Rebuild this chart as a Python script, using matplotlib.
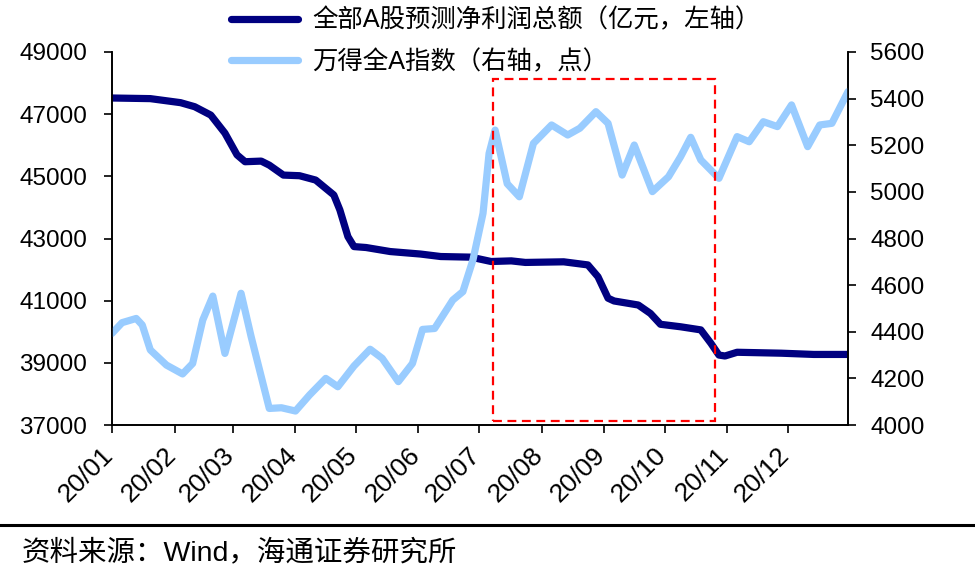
import pandas as pd
import matplotlib
matplotlib.use('Agg')
import matplotlib.pyplot as plt
import matplotlib.dates as mdates
import matplotlib.transforms as mtransforms
from matplotlib.patches import Rectangle
from matplotlib.lines import Line2D

plt.rcParams['font.family'] = ['Liberation Sans', 'Noto Sans CJK SC']

# day offsets from 2020-01-01
profit_days = [0, 19, 34, 41, 49, 56, 62, 66, 74, 78, 85, 93, 101, 110, 113, 117, 120, 126, 138, 153,
               163, 178, 188, 198, 205, 224, 236, 241, 246, 249, 261, 267, 272, 282, 292, 297, 301, 304,
               310, 332, 348, 365]
profit_vals = [47520, 47500, 47370, 47240, 46970, 46390, 45690, 45470, 45490, 45360, 45040, 45020,
               44880, 44400, 43920, 43060, 42740, 42710, 42580, 42500, 42420, 42400, 42260, 42280,
               42230, 42250, 42150, 41770, 41080, 40990, 40860, 40590, 40240, 40160, 40060, 39630,
               39250, 39220, 39340, 39310, 39270, 39270]

index_days = [0, 5, 12, 15, 19, 27, 35, 40, 45, 50, 56, 64, 69, 78, 84, 91, 98, 106, 112, 120,
              128, 134, 142, 149, 154, 160, 169, 174, 179, 184, 187, 190, 196, 202, 209, 218, 226, 232,
              240, 246, 253, 259, 268, 276, 282, 287, 292, 301, 310, 316, 323, 330, 337, 345, 351, 357, 365]
index_vals = [4393, 4439, 4457, 4429, 4322, 4257, 4219, 4264, 4450, 4553, 4307, 4565, 4379, 4071,
              4074, 4060, 4129, 4200, 4164, 4253, 4325, 4286, 4186, 4264, 4410, 4414, 4536, 4572,
              4708, 4908, 5165, 5265, 5035, 4979, 5208, 5287, 5244, 5273, 5344, 5294, 5072, 5201,
              5001, 5065, 5151, 5234, 5137, 5058, 5237, 5215, 5301, 5280, 5373, 5194, 5287, 5294, 5430]

profit_label = '全部A股预测净利润总额（亿元，左轴）'
index_label = '万得全A指数（右轴，点）'
source_text = '资料来源：Wind，海通证券研究所'

# highlighted window (dates, left-axis values)
box_start, box_end = '2020-07-08', '2020-10-26'
box_low, box_high = 37130, 48130

start = pd.Timestamp('2020-01-01')
profit_dates = start + pd.to_timedelta(profit_days, unit='D')
index_dates = start + pd.to_timedelta(index_days, unit='D')

fig = plt.figure(figsize=(9.75, 5.85), dpi=100)
ax = fig.add_axes([112 / 975, 1 - 425 / 585, (848 - 112) / 975, (425 - 52) / 585])
ax2 = ax.twinx()

l1, = ax.plot(profit_dates, profit_vals, color='#000080', lw=5.2,
              solid_joinstyle='round', solid_capstyle='round')
l2, = ax2.plot(index_dates, index_vals, color='#99CCFF', lw=5.2,
               solid_joinstyle='round', solid_capstyle='round')

x0 = mdates.date2num(pd.Timestamp(box_start))
x1 = mdates.date2num(pd.Timestamp(box_end))
rect = Rectangle((x0, box_low), x1 - x0, box_high - box_low, transform=ax.transData,
                 fill=False, edgecolor='red', lw=1.6, linestyle=(0, (4, 2.5)), zorder=5)
ax2.add_patch(rect)

ax.set_xlim(start, pd.Timestamp('2020-12-31'))
ax.set_ylim(37000, 49000)
ax2.set_ylim(4000, 5600)
ax.set_yticks(range(37000, 49001, 2000))
ax2.set_yticks(range(4000, 5601, 200))

for a in (ax, ax2):
    a.spines['top'].set_visible(False)
    for s in ('left', 'right', 'bottom'):
        a.spines[s].set_linewidth(1.2)
    a.tick_params(labelsize=17.5, length=6, width=1.2, direction='out')
ax.tick_params(axis='y', pad=12)
ax2.tick_params(axis='y', pad=10)
ax.tick_params(axis='x', pad=7, labelsize=19)

ticks = pd.date_range('2020-01-01', '2020-12-01', freq='MS')
ax.set_xticks(ticks)
ax.set_xticklabels([d.strftime('%y/%m') for d in ticks], rotation=45, ha='right')
shift = mtransforms.ScaledTranslation(6 / 100, 0, fig.dpi_scale_trans)
for lab in ax.get_xticklabels():
    lab.set_transform(lab.get_transform() + shift)

fig.legend([l1, l2], [profit_label, index_label], loc='upper left',
           bbox_to_anchor=(231 / 975, 1 - 8 / 585), frameon=False, fontsize=18.3,
           handlelength=2.64, handletextpad=0.55, labelspacing=0.68, borderpad=0,
           borderaxespad=0)

fig.add_artist(Line2D([0, 1], [1 - 525 / 585, 1 - 525 / 585], color='black', lw=2.2))
fig.text(22 / 975, 1 - 553 / 585, source_text, fontsize=20.5, va='center', ha='left')

fig.savefig('out.png', dpi=100)
